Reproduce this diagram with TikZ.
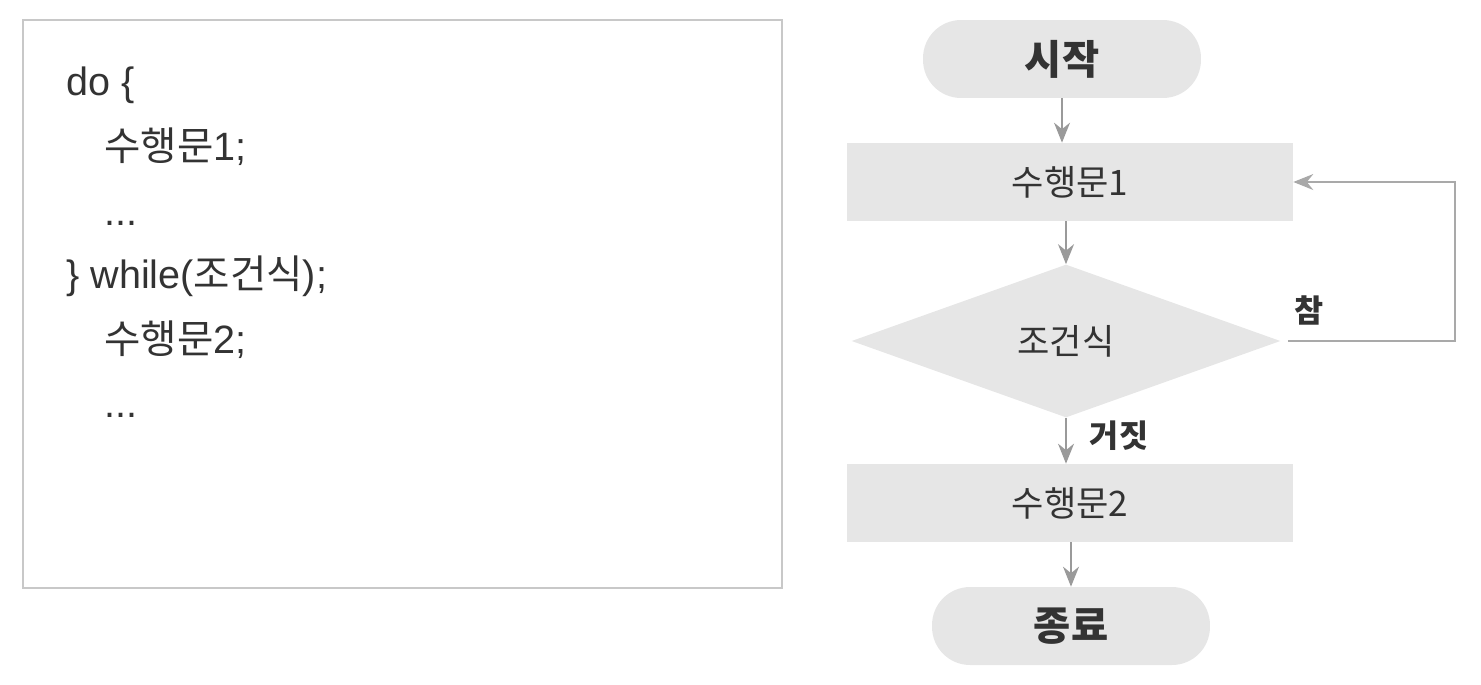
\documentclass[tikz,border=0pt]{standalone}
\usepackage{fontspec}
\setmainfont{Liberation Sans}
\newfontfamily\kr{Noto Sans CJK KR}
\usetikzlibrary{shapes.geometric,arrows.meta}
\definecolor{boxgray}{HTML}{E6E6E6}
\definecolor{framegray}{HTML}{C8C8C8}
\definecolor{arrowgray}{HTML}{9A9A9A}
\definecolor{txtgray}{HTML}{333333}
\begin{document}
\begin{tikzpicture}[x=0.02cm, y=-0.02cm,
  every node/.style={font=\fontsize{20}{24}\selectfont, text=txtgray},
  codebox/.style={draw=framegray, line width=0.04cm, minimum width=15.18cm, minimum height=11.36cm},
  codeline/.style={anchor=base west, inner sep=0pt, font=\fontsize{22.5}{27}\selectfont},
  procbox/.style={fill=boxgray, minimum width=8.92cm, minimum height=1.56cm, font=\kr\fontsize{20}{24}\selectfont},
  termbox/.style={fill=boxgray, rounded corners=0.76cm, minimum width=5.56cm, minimum height=1.56cm, font=\kr\bfseries\fontsize{23}{28}\selectfont},
  decbox/.style={diamond, fill=boxgray, inner sep=0pt, minimum width=8.58cm, minimum height=3.06cm, font=\kr\fontsize{20}{24}\selectfont},
  flowlabel/.style={font=\kr\bfseries\fontsize{18}{22}\selectfont},
  flow/.style={-{Stealth[length=0.4cm,width=0.32cm]}, arrowgray, line width=0.04cm},
  loopline/.style={-{Stealth[length=0.4cm,width=0.32cm]}, arrowgray!85, line width=0.03cm}]
  \useasboundingbox (0,0) rectangle (1481,684);
  % code on the left
  \node[codebox] (code) at (402.5,304) {};
  \node[codeline] (l1) at (66,95) {do \{};
  \node[codeline] (l2) at (104,160) {{\kr 수행문}1;};
  \node[codeline] (l3) at (104,225) {...};
  \node[codeline] (l4) at (66,288) {\} while({\kr 조건식});};
  \node[codeline] (l5) at (104,353) {{\kr 수행문}2;};
  \node[codeline] (l6) at (104,417) {...};
  % flow chart on the right
  \node[termbox] (start) at (1062,59) {시작};
  \node[procbox] (s1) at (1070,182) {수행문1};
  \node[decbox] (cond) at (1066,341) {조건식};
  \node[procbox] (s2) at (1070,503) {수행문2};
  \node[termbox] (stop) at (1071,626) {종료};
  \coordinate (bend) at (1455,182);
  \draw[flow] (start.south) -- (start.south |- s1.north);
  \draw[flow] (s1.south -| cond.north) -- (cond.north);
  \draw[flow] (cond.south) -- (cond.south |- s2.north);
  \draw[flow] (s2.south -| stop.north) -- (stop.north);
  \draw[loopline, shorten <=0.14cm] (cond.east) -| (bend) -- (s1.east);
  \node[flowlabel] (yes) at (1309,310) {참};
  \node[flowlabel] (no) at (1119,436) {거짓};
\end{tikzpicture}
\end{document}
